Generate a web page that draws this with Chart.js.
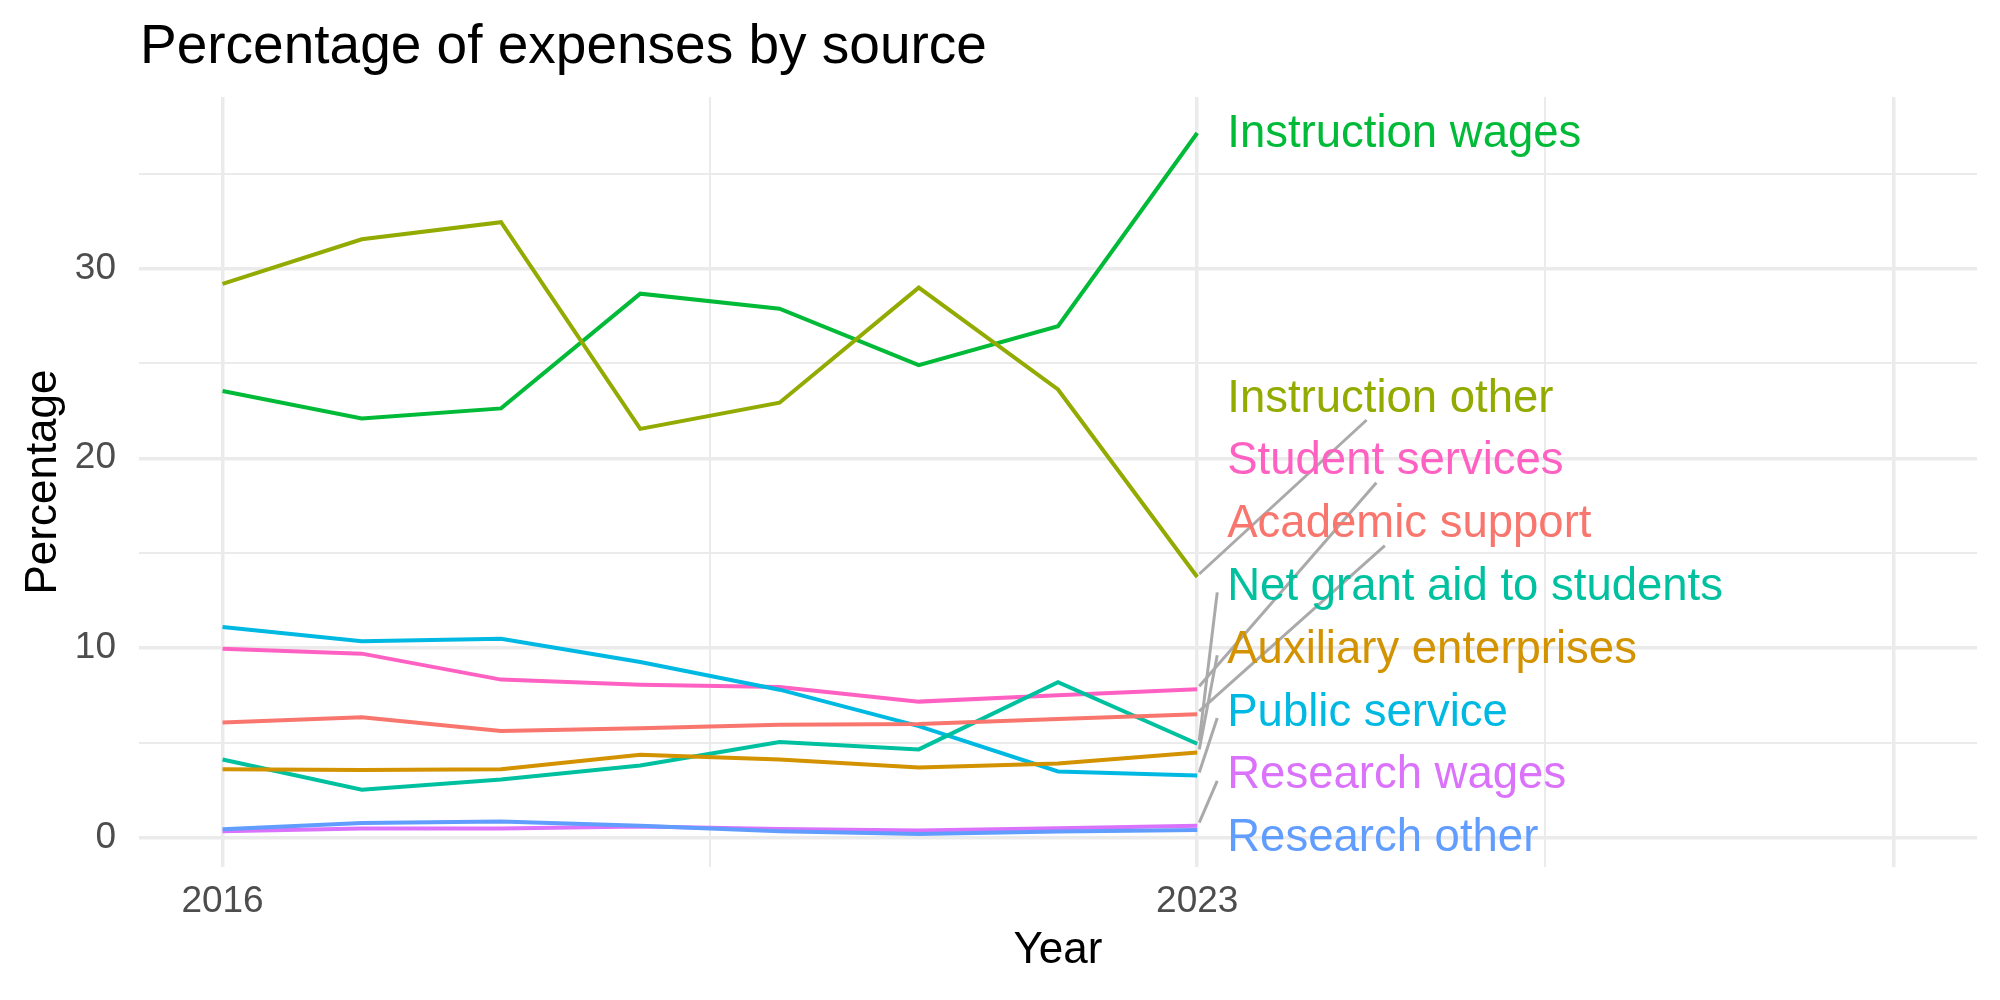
<!DOCTYPE html>
<html>
<head>
<meta charset="utf-8">
<script src="https://cdn.jsdelivr.net/npm/chart.js@4/dist/chart.umd.min.js"></script>
<style>
  body { margin: 0; background: #ffffff; }
  canvas { display: block; }
</style>
</head>
<body>
<canvas id="expensesChart" width="2000" height="1000"></canvas>
<script>
// data
const years = [2016, 2017, 2018, 2019, 2020, 2021, 2022, 2023];

const seriesNames = ['Academic support', 'Auxiliary enterprises', 'Instruction other', 'Instruction wages',
                     'Net grant aid to students', 'Public service', 'Research other', 'Research wages', 'Student services'];

const academicSupport   = [6.07, 6.34, 5.62, 5.77, 5.95, 5.99, 6.25, 6.51];
const auxiliary         = [3.61, 3.56, 3.61, 4.37, 4.12, 3.70, 3.91, 4.49];
const instructionOther  = [29.2, 31.55, 32.45, 21.55, 22.93, 29.0, 23.63, 13.74];
const instructionWages  = [23.55, 22.1, 22.63, 28.68, 27.89, 24.91, 26.96, 37.15];
const netGrantAid       = [4.12, 2.52, 3.06, 3.80, 5.04, 4.65, 8.20, 4.95];
const publicService     = [11.11, 10.35, 10.48, 9.26, 7.80, 5.88, 3.49, 3.27];
const researchOther     = [0.44, 0.77, 0.85, 0.62, 0.33, 0.19, 0.32, 0.40];
const researchWages     = [0.33, 0.48, 0.48, 0.58, 0.46, 0.37, 0.49, 0.63];
const studentServices   = [9.96, 9.70, 8.33, 8.06, 7.94, 7.17, 7.50, 7.82];

const seriesValues = [academicSupport, auxiliary, instructionOther, instructionWages, netGrantAid,
                      publicService, researchOther, researchWages, studentServices];

const xTicks = [2016, 2019.5, 2023, 2025.5, 2028];
const xTickLabels = ['2016', '', '2023', '', ''];
const yTicks = [0, 5, 10, 15, 20, 25, 30, 35];

const colours = ['#F8766D', '#D39200', '#93AA00', '#00BA38', '#00C19F', '#00B9E3', '#619CFF', '#DB72FB', '#FF61C3'];
const FONT = '"Liberation Sans", Arial, Helvetica, sans-serif';

const datasets = seriesNames.map(function (name, i) {
    return {
        label: name,
        data: years.map(function (yr, j) { return {x: yr, y: seriesValues[i][j]}; }),
        borderColor: colours[i],
        backgroundColor: colours[i],
        borderWidth: 4,
        pointRadius: 0,
        tension: 0,
        fill: false
    };
});

// title drawn at the panel's left edge, like ggplot
const titlePlugin = {
    id: 'plotTitle',
    afterDraw(chart) {
        const ctx = chart.ctx;
        ctx.save();
        ctx.fillStyle = '#000000';
        ctx.font = '55px ' + FONT;
        ctx.textAlign = 'left';
        ctx.textBaseline = 'alphabetic';
        ctx.fillText('Percentage of expenses by source', chart.chartArea.left + 1, 63);
        ctx.restore();
    }
};

// end-of-line labels, stacked upward from zero, with grey leader segments
const endLabels = {
    id: 'endLabels',
    afterDatasetsDraw(chart) {
        const ctx = chart.ctx;
        const xs = chart.scales.x, ys = chart.scales.y;
        const last = years.length - 1;
        const px = xs.getPixelForValue(years[last]);
        const textLeft = px + 30;
        const gap = 62.8;

        const items = seriesNames.map(function (name, i) {
            return {name: name, colour: colours[i], value: seriesValues[i][last]};
        }).sort(function (a, b) { return a.value - b.value; });

        let prev = null;
        items.forEach(function (it, k) {
            const py = ys.getPixelForValue(it.value);
            it.py = py;
            it.ly = (k === 0) ? ys.getPixelForValue(0) : Math.min(py, prev - gap);
            prev = it.ly;
        });

        ctx.save();
        ctx.font = '45.5px ' + FONT;

        // segments
        ctx.strokeStyle = '#AAAAAA';
        ctx.lineWidth = 3;
        items.forEach(function (it) {
            const dy = it.py - it.ly;
            if (Math.abs(dy) < 20) return;
            let ex, ey;
            if (dy > 170) {
                const w = ctx.measureText(it.name).width;
                const cx = textLeft + w / 2, cy = it.ly;
                ey = it.ly + 22;
                const t = (it.py - ey) / (it.py - cy);
                ex = px + t * (cx - px);
            } else {
                ex = textLeft - 10;
                ey = it.ly + 6;
            }
            const sx = px + 2, sy = it.py - 3;
            ctx.beginPath();
            ctx.moveTo(sx, sy);
            ctx.lineTo(ex, ey);
            ctx.stroke();
        });

        // texts
        ctx.textAlign = 'left';
        ctx.textBaseline = 'middle';
        items.forEach(function (it) {
            ctx.fillStyle = it.colour;
            ctx.fillText(it.name, textLeft, it.ly + 1);
        });
        ctx.restore();
    }
};

new Chart(document.getElementById('expensesChart'), {
    type: 'line',
    data: { datasets: datasets },
    plugins: [titlePlugin, endLabels],
    options: {
        responsive: false,
        animation: false,
        layout: { padding: { top: 97, right: 23, left: 0, bottom: 0 } },
        plugins: {
            legend: { display: false },
            title: { display: false },
            tooltip: { enabled: false }
        },
        scales: {
            x: {
                type: 'linear',
                min: 2015.4,
                max: 2028.6,
                afterBuildTicks: function (scale) {
                    scale.ticks = xTicks.map(function (v) { return {value: v}; });
                },
                afterFit: function (scale) { scale.height = 133; },
                ticks: {
                    autoSkip: false,
                    maxRotation: 0,
                    padding: 13,
                    color: '#4D4D4D',
                    font: { family: FONT, size: 37 },
                    callback: function (value) {
                        const i = xTicks.indexOf(value);
                        return i >= 0 ? xTickLabels[i] : '';
                    }
                },
                grid: {
                    drawTicks: false,
                    color: '#EBEBEB',
                    lineWidth: function (c) {
                        return (c.tick && (c.tick.value === 2019.5 || c.tick.value === 2025.5)) ? 2 : 3.5;
                    }
                },
                border: { display: false },
                title: {
                    display: true,
                    text: 'Year',
                    color: '#000000',
                    font: { family: FONT, size: 44 },
                    padding: { top: 0, bottom: 23 }
                }
            },
            y: {
                type: 'linear',
                min: -1.55,
                max: 39.05,
                afterBuildTicks: function (scale) {
                    scale.ticks = yTicks.map(function (v) { return {value: v}; });
                },
                afterFit: function (scale) { scale.width = 139; },
                ticks: {
                    autoSkip: false,
                    padding: 23,
                    color: '#4D4D4D',
                    font: { family: FONT, size: 37 },
                    callback: function (value) {
                        return value % 10 === 0 ? String(value) : '';
                    }
                },
                grid: {
                    drawTicks: false,
                    color: '#EBEBEB',
                    lineWidth: function (c) {
                        return (c.tick && c.tick.value % 10 !== 0) ? 2 : 3.5;
                    }
                },
                border: { display: false },
                title: {
                    display: true,
                    text: 'Percentage',
                    color: '#000000',
                    font: { family: FONT, size: 44 },
                    padding: { top: 17, bottom: 0 }
                }
            }
        }
    }
});
</script>
</body>
</html>
